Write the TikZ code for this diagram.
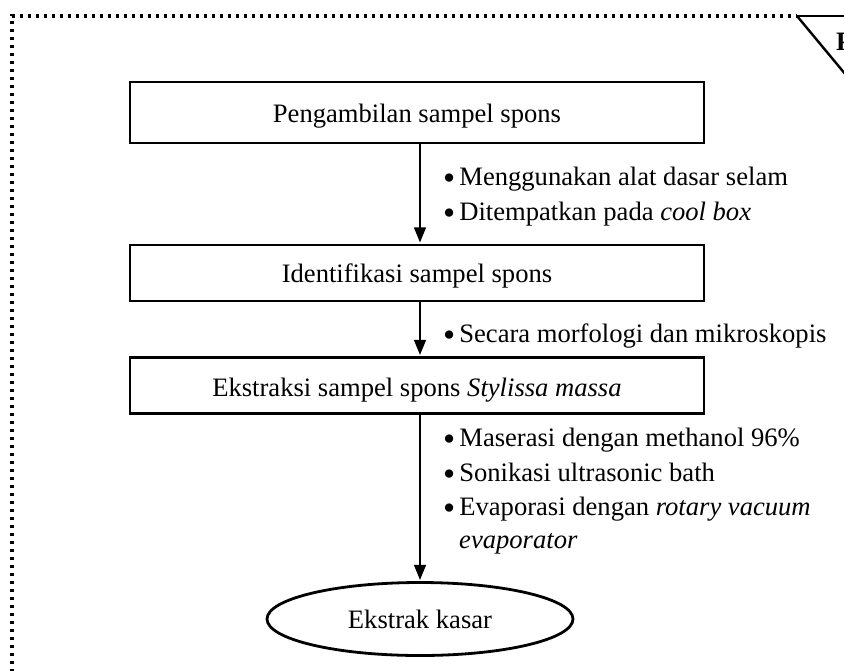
\documentclass[tikz,border=0pt]{standalone}
\usepackage{fontspec}
\usepackage{graphicx}
\setmainfont{Liberation Serif}
\usetikzlibrary{arrows.meta,shapes.geometric}
\newcommand\mybul{\makebox[9.5pt][l]{\raisebox{-0.16em}{\scalebox{1.3}{\textbullet}}}}
\begin{document}
\begin{tikzpicture}[x=1pt,y=-1pt,
  every node/.style={font=\fontsize{26.6}{34}\selectfont},
  stepbox/.style={draw, line width=2.8pt, minimum width=574pt, inner sep=0pt, align=center},
  endshape/.style={draw, ellipse, line width=2.8pt, minimum width=306pt, minimum height=73pt, inner sep=0pt},
  arr/.style={line width=1.3pt, -{Triangle[width=12pt,length=15pt]}, shorten >=1.2pt},
  lbl/.style={anchor=base west, inner sep=0pt},
  frame/.style={line width=3.2pt, dash pattern=on 3.2pt off 4.8pt, line cap=butt}
]
\useasboundingbox (0,0) rectangle (844,670);
% frame
\coordinate (fTL) at (12,16);
\coordinate (fBL) at (12,672);
\coordinate (fTR) at (797,16);
\coordinate (fR) at (846,16);
\coordinate (fD) at (846,75);
\draw[frame] (fBL) -- (fTL) -- (fTR);
\draw[line width=2.4pt] (fTR) -- (fR);
\draw[line width=2.4pt] (fTR) -- (fD);
\node[anchor=base west, inner sep=0pt, font=\fontsize{26.6}{34}\selectfont\bfseries] (tag) at (836,50) {P};
% boxes
\node[stepbox, minimum height=61pt] (b1) at (417,112.5) {};
\node[inner sep=0pt, anchor=base] (t1) at (417,122.7) {Pengambilan sampel spons};
\node[stepbox, minimum height=56pt] (b2) at (417,273) {};
\node[inner sep=0pt, anchor=base] (t2) at (417,282.7) {Identifikasi sampel spons};
\node[stepbox, minimum height=56pt] (b3) at (417,385.5) {};
\node[inner sep=0pt, anchor=base] (t3) at (417,396) {Ekstraksi sampel spons \textit{Stylissa massa}};
\node[endshape] (e1) at (420,619) {};
\node[inner sep=0pt, anchor=base] (t4) at (420,628) {Ekstrak kasar};
% arrows
\draw[arr] ([xshift=3pt]b1.south) -- ([xshift=3pt]b2.north);
\draw[arr] ([xshift=3pt]b2.south) -- ([xshift=3pt]b3.north);
\draw[arr] ([xshift=3pt]b3.south) -- (e1.north);
% bullet labels
\node[lbl] (n1) at (443,185.7) {\mybul{} Menggunakan alat dasar selam};
\node[lbl] (n2) at (443,220) {\mybul{} Ditempatkan pada \textit{cool box}};
\node[lbl] (n3) at (443,342.5) {\mybul{} Secara morfologi dan mikroskopis};
\node[lbl] (n4) at (443,446.7) {\mybul{} Maserasi dengan methanol 96\%};
\node[lbl] (n5) at (443,481) {\mybul{} Sonikasi ultrasonic bath};
\node[lbl] (n6) at (443,515) {\mybul{} Evaporasi dengan \textit{rotary vacuum}};
\node[lbl] (n7) at (459,548.5) {\textit{evaporator}};
\end{tikzpicture}
\end{document}
